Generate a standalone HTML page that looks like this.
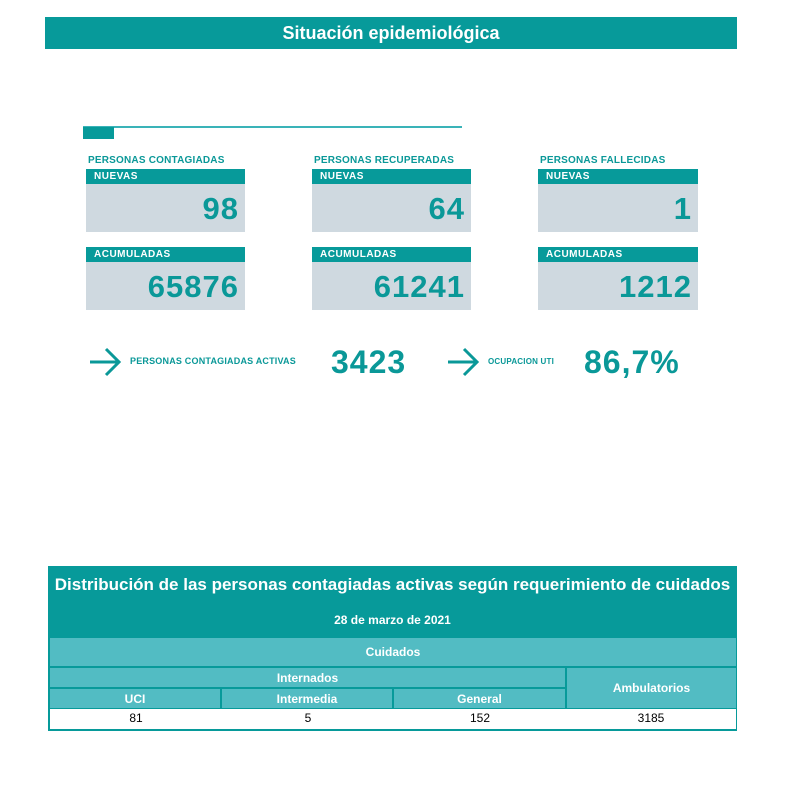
<!DOCTYPE html>
<html><head><meta charset="utf-8"><style>
body{margin:0;width:809px;height:796px;background:#fff;position:relative;font-family:"Liberation Sans",sans-serif;overflow:hidden}
.a{position:absolute}
.t{background:#079a9a}
.hd{color:#fff;font-weight:bold;font-size:10px;letter-spacing:.5px;padding-left:8px;line-height:15px;box-sizing:border-box}
.g{background:#cfd9e0;color:#0a9898;font-weight:bold;text-align:right;box-sizing:border-box;padding-right:6px;font-size:31px;letter-spacing:1px}
.lb{color:#0a9898;font-weight:bold;font-size:10px;letter-spacing:.2px}
.c{color:#fff;font-weight:bold;text-align:center;font-size:13px}
.l{background:#52bcc3}
</style></head><body>
<div class="a t c" style="left:45px;top:17px;width:692px;height:32px;line-height:33px;font-size:18px">Situación epidemiológica</div>
<div class="a" style="left:83px;top:126px;width:379px;height:2px;background:#3ab3b8"></div>
<div class="a t" style="left:83px;top:127px;width:31px;height:12px"></div>

<div class="a lb" style="left:88px;top:155px">PERSONAS CONTAGIADAS</div>
<div class="a t hd" style="left:86px;top:169px;width:159px;height:15px">NUEVAS</div>
<div class="a g" style="left:86px;top:184px;width:159px;height:48px;line-height:50px">98</div>
<div class="a t hd" style="left:86px;top:247px;width:159px;height:15px">ACUMULADAS</div>
<div class="a g" style="left:86px;top:262px;width:159px;height:48px;line-height:50px">65876</div>

<div class="a lb" style="left:314px;top:155px">PERSONAS RECUPERADAS</div>
<div class="a t hd" style="left:312px;top:169px;width:159px;height:15px">NUEVAS</div>
<div class="a g" style="left:312px;top:184px;width:159px;height:48px;line-height:50px">64</div>
<div class="a t hd" style="left:312px;top:247px;width:159px;height:15px">ACUMULADAS</div>
<div class="a g" style="left:312px;top:262px;width:159px;height:48px;line-height:50px">61241</div>

<div class="a lb" style="left:540px;top:155px">PERSONAS FALLECIDAS</div>
<div class="a t hd" style="left:538px;top:169px;width:160px;height:15px">NUEVAS</div>
<div class="a g" style="left:538px;top:184px;width:160px;height:48px;line-height:50px">1</div>
<div class="a t hd" style="left:538px;top:247px;width:160px;height:15px">ACUMULADAS</div>
<div class="a g" style="left:538px;top:262px;width:160px;height:48px;line-height:50px">1212</div>

<svg class="a" style="left:88px;top:347px" width="34" height="30"><path d="M2 15H31M18 2L31 15L18 28" fill="none" stroke="#0a9898" stroke-width="3"/></svg>
<div class="a lb" style="left:130px;top:356px;font-size:9px">PERSONAS CONTAGIADAS ACTIVAS</div>
<div class="a" style="left:331px;top:344px;color:#0a9898;font-weight:bold;font-size:32px;letter-spacing:1px">3423</div>
<svg class="a" style="left:446px;top:347px" width="34" height="30"><path d="M2 15H31M18 2L31 15L18 28" fill="none" stroke="#0a9898" stroke-width="3"/></svg>
<div class="a lb" style="left:488px;top:357px;font-size:8px">OCUPACION UTI</div>
<div class="a" style="left:584px;top:344px;color:#0a9898;font-weight:bold;font-size:32px;letter-spacing:1px">86,7%</div>

<div class="a" style="left:48px;top:566px;width:689px;height:165px;background:#079a9a"></div>
<div class="a c" style="left:48px;top:575px;width:689px;font-size:17px">Distribución de las personas contagiadas activas según requerimiento de cuidados</div>
<div class="a c" style="left:48px;top:613px;width:689px;font-size:12px">28 de marzo de 2021</div>
<div class="a l c" style="left:50px;top:638px;width:686px;height:28px;line-height:28px;font-size:12px">Cuidados</div>
<div class="a l c" style="left:50px;top:668px;width:515px;height:19px;line-height:20px;font-size:12px">Internados</div>
<div class="a l c" style="left:567px;top:668px;width:169px;height:40px;line-height:40px;font-size:12px">Ambulatorios</div>
<div class="a l c" style="left:50px;top:689px;width:170px;height:19px;line-height:20px;font-size:12px">UCI</div>
<div class="a l c" style="left:222px;top:689px;width:170px;height:19px;line-height:20px;font-size:12px">Intermedia</div>
<div class="a l c" style="left:394px;top:689px;width:171px;height:19px;line-height:20px;font-size:12px">General</div>
<div class="a" style="left:50px;top:709px;width:686px;height:20px;background:#fff"></div>
<div class="a" style="left:50px;top:711px;width:172px;text-align:center;font-size:12px">81</div>
<div class="a" style="left:222px;top:711px;width:172px;text-align:center;font-size:12px">5</div>
<div class="a" style="left:394px;top:711px;width:172px;text-align:center;font-size:12px">152</div>
<div class="a" style="left:566px;top:711px;width:170px;text-align:center;font-size:12px">3185</div>
</body></html>
